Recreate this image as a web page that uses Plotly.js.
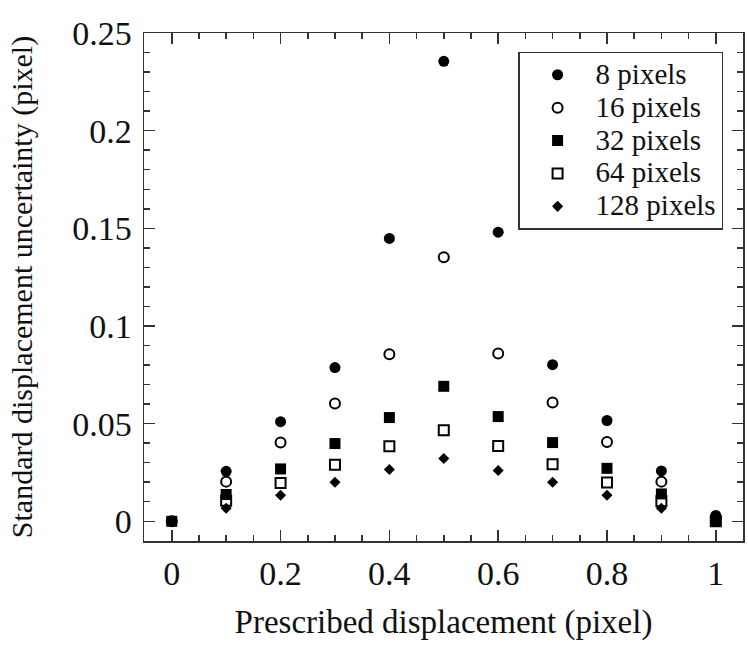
<!DOCTYPE html>
<html>
<head>
<meta charset="utf-8">
<script src="https://cdn.plot.ly/plotly-3.0.1.min.js"></script>
<style>html,body{margin:0;padding:0;background:#fff;}#chart{width:748px;height:648px;}</style>
</head>
<body>
<div id="chart"></div>
<script>
// Prescribed displacement (pixel)
const displacement = [0, 0.1, 0.2, 0.3, 0.4, 0.5, 0.6, 0.7, 0.8, 0.9, 1];
// Standard displacement uncertainty (pixel) per subset size
const subset8   = [0, 0.0256, 0.0510, 0.0787, 0.1448, 0.2355, 0.1480, 0.0802, 0.0516, 0.0258, 0.0030];
const subset16  = [0, 0.0203, 0.0403, 0.0603, 0.0855, 0.1352, 0.0859, 0.0608, 0.0406, 0.0203, 0.0020];
const subset32  = [0, 0.0137, 0.0268, 0.0398, 0.0531, 0.0691, 0.0536, 0.0403, 0.0271, 0.0140, 0];
const subset64  = [null, 0.0105, 0.0196, 0.0290, 0.0384, 0.0466, 0.0386, 0.0292, 0.0198, 0.0103, 0];
const subset128 = [null, 0.0067, 0.0133, 0.0200, 0.0265, 0.0321, 0.0260, 0.0200, 0.0133, 0.0067, 0];
const seriesNames = ['8 pixels', '16 pixels', '32 pixels', '64 pixels', '128 pixels'];
const xTickVals = [0, 0.2, 0.4, 0.6, 0.8, 1];
const xTickText = ['0', '0.2', '0.4', '0.6', '0.8', '1'];
const yTickVals = [0, 0.05, 0.1, 0.15, 0.2, 0.25];
const yTickText = ['0', '0.05', '0.1', '0.15', '0.2', '0.25'];

const FONT = 'Liberation Serif, Times New Roman, serif';
const INK = '#333333';

function label(s) { return '<span style="font-size:29px">' + s + '</span>'; }

function tr(y, name, rank, marker) {
  return {x: displacement, y: y, name: label(name), legendrank: rank, type: 'scatter', mode: 'markers',
          marker: marker, cliponaxis: false, hoverinfo: 'x+y'};
}

// drawing order: open markers first, filled on top
const data = [
  tr(subset64, seriesNames[3], 4, {symbol: 'square-open', size: 10, color: '#000', line: {color: '#000', width: 2}}),
  tr(subset16, seriesNames[1], 2, {symbol: 'circle-open', size: 10, color: '#000', line: {color: '#000', width: 2}}),
  tr(subset128, seriesNames[4], 5, {symbol: 'diamond', size: 8.5, color: '#000', line: {width: 0}}),
  tr(subset32, seriesNames[2], 3, {symbol: 'square', size: 11, color: '#000', line: {width: 0}}),
  tr(subset8, seriesNames[0], 1, {symbol: 'circle', size: 11, color: '#000', line: {width: 0}})
];

const layout = {
  width: 748, height: 648,
  margin: {l: 144, r: 5, t: 33, b: 107, pad: 0},
  paper_bgcolor: '#fff', plot_bgcolor: '#fff',
  font: {family: FONT, color: '#111', size: 29},
  showlegend: true,
  legend: {
    x: 0.6245, y: 0.963, xanchor: 'left', yanchor: 'top',
    bgcolor: '#fff', bordercolor: INK, borderwidth: 1.5,
    font: {family: FONT, size: 23, color: '#111'},
    traceorder: 'normal', itemwidth: 66
  },
  xaxis: {
    range: [-0.051, 1.05], showgrid: false, zeroline: false,
    showline: true, linecolor: INK, linewidth: 1.5, mirror: 'ticks',
    ticks: 'inside', ticklen: 11, tickwidth: 1.5, tickcolor: INK,
    tickmode: 'array', tickvals: xTickVals, ticktext: xTickText,
    tickfont: {family: FONT, size: 34, color: '#111'}, ticklabelstandoff: 2,
    minor: {dtick: 0.05, tick0: 0, ticks: 'inside', ticklen: 6, tickwidth: 1.5, tickcolor: INK, showgrid: false},
    title: {text: 'Prescribed displacement (pixel)', font: {family: FONT, size: 33, color: '#111'}, standoff: 18},
    automargin: false
  },
  yaxis: {
    range: [-0.0101, 0.25], showgrid: false, zeroline: false,
    showline: true, linecolor: INK, linewidth: 1.5, mirror: 'ticks',
    ticks: 'inside', ticklen: 11, tickwidth: 1.5, tickcolor: INK,
    tickmode: 'array', tickvals: yTickVals, ticktext: yTickText,
    tickfont: {family: FONT, size: 34, color: '#111'}, ticklabelstandoff: 4,
    minor: {dtick: 0.01, tick0: 0, ticks: 'inside', ticklen: 6, tickwidth: 1.5, tickcolor: INK, showgrid: false},
    title: {text: 'Standard displacement uncertainty (pixel)', font: {family: FONT, size: 30, color: '#111'}, standoff: 30},
    automargin: false
  }
};

Plotly.newPlot('chart', data, layout, {staticPlot: true, displayModeBar: false});
</script>
</body>
</html>
